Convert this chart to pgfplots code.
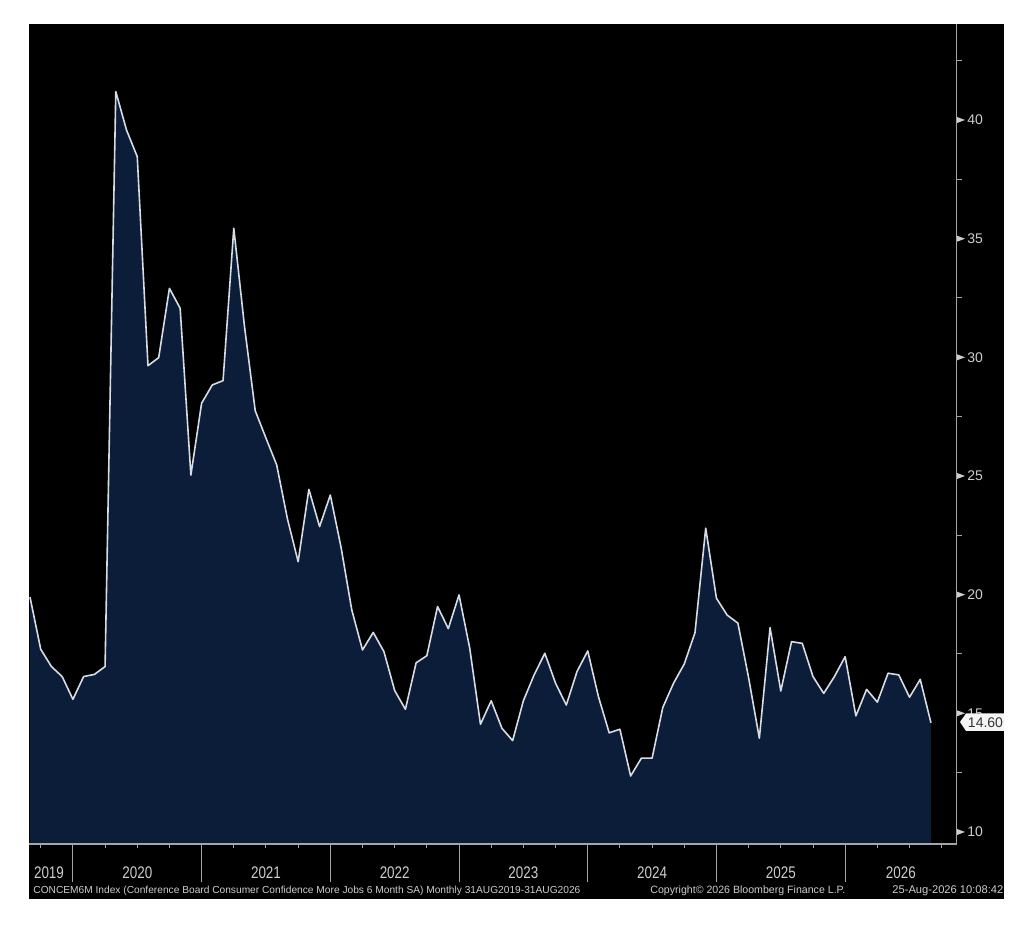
\documentclass[border=0pt]{standalone}
\usepackage{fontspec}
\setmainfont{Liberation Sans}
\newfontfamily\cond[FakeStretch=0.8]{Liberation Sans}
\usepackage{graphicx}
\usepackage{pgfplots}
\pgfplotsset{compat=1.18}
\usepackage{pgfplotstable}
\definecolor{navy}{RGB}{12,29,58}
\definecolor{linec}{RGB}{215,220,228}
\definecolor{labc}{RGB}{205,205,205}
\definecolor{axc}{RGB}{165,165,165}
\pgfplotstableread{
i v
0 19.9
1 17.70
2 16.97
3 16.55
4 15.59
5 16.55
6 16.64
7 16.97
8 41.2
9 39.58
10 38.46
11 29.65
12 29.99
13 32.91
14 32.07
15 25.04
16 28.07
17 28.84
18 29.02
19 35.44
20 31.3
21 27.75
22 26.6
23 25.47
24 23.2
25 21.39
26 24.44
27 22.87
28 24.20
29 22.0
30 19.36
31 17.67
32 18.41
33 17.60
34 15.96
35 15.17
36 17.13
37 17.43
38 19.50
39 18.57
40 19.99
41 17.74
42 14.54
43 15.53
44 14.37
45 13.85
46 15.53
47 16.62
48 17.53
49 16.27
50 15.35
51 16.76
52 17.63
53 15.70
54 14.18
55 14.33
56 12.36
57 13.11
58 13.11
59 15.25
60 16.27
61 17.08
62 18.40
63 22.80
64 19.85
65 19.14
66 18.80
67 16.5
68 13.95
69 18.61
70 15.94
71 18.02
72 17.95
73 16.55
74 15.84
75 16.55
76 17.39
77 14.89
78 16.01
79 15.47
80 16.69
81 16.62
82 15.68
83 16.43
84 14.60
}\data
\begin{document}
\begin{tikzpicture}
\begin{scope}[x=0.5pt,y=-0.5pt,shift={(-14.65pt,422pt)}]
\useasboundingbox (0,0) rectangle (1024,925);
\fill[white] (0,0) rectangle (1024,925);
\fill[black] (29.3,24) rectangle (1004,899);
\end{scope}
\begin{axis}[at={(0,0)},anchor=south west,scale only axis,
  width=463.7pt,height=410pt,
  xmin=-0.065,xmax=86.4,ymin=9.494,ymax=44.05,hide axis]
\addplot[draw=none,fill=navy] table[x=i,y=v]{\data} \closedcycle;
\addplot[linec,line width=0.8pt,line join=round] table[x=i,y=v]{\data};
\end{axis}
\begin{scope}[x=0.5pt,y=-0.5pt,shift={(-14.65pt,422pt)}]
\draw[axc,line width=0.6pt] (29.3,844) -- (956.7,844) -- (956.7,24);
\foreach \k in {0,...,6} \draw[axc,line width=0.5pt] ({30+10.726*(4+12*\k)},844) -- ++(0,38);
\foreach \m in {1,7,10,13,19,22,25,31,34,37,43,46,49,55,58,61,67,70,73,79,82,85}
  \draw[axc,line width=0.5pt] ({30+10.726*\m},844) -- ++(0,4);
\foreach \yr/\X in {2019/49,2020/137.3,2021/266,2022/394.7,2023/523.4,2024/652.1,2025/780.8,2026/900.9}
  \node[labc,inner sep=0pt] at (\X,873) {\cond\fontsize{8.4pt}{9pt}\selectfont \yr};
\foreach \Y in {772.7,654,535.3,416.7,298,179.3,60.7}
  \draw[axc,line width=0.5pt] (957,\Y) -- (962,\Y);
\foreach \v/\Y in {10/832,15/713.3,20/594.7,25/476,30/357.3,35/238.7,40/120}{
  \fill[labc] (957,\Y-3) -- (965,\Y) -- (957,\Y+3) -- cycle;
  \node[labc,anchor=west,inner sep=0pt] at (967,\Y) {\fontsize{7pt}{8pt}\selectfont \v};
}
\fill[white!92!gray] (960,722) -- (966,713.5) -- (1004,713.5) -- (1004,731) -- (966,731) -- cycle;
\node[inner sep=0pt,text=black!80] at (985.5,722.5) {\fontsize{7pt}{8pt}\selectfont 14.60};
\node[labc,anchor=west,inner sep=0pt] at (33,891) {\resizebox{273.5pt}{!}{\fontsize{5pt}{6pt}\selectfont CONCEM6M Index (Conference Board Consumer Confidence More Jobs 6 Month SA) Monthly 31AUG2019-31AUG2026}};
\node[labc,anchor=west,inner sep=0pt] at (650,891) {\resizebox{97.5pt}{!}{\fontsize{5pt}{6pt}\selectfont Copyright© 2026 Bloomberg Finance L.P.}};
\node[labc,anchor=west,inner sep=0pt] at (892,891) {\resizebox{55.5pt}{!}{\fontsize{5pt}{6pt}\selectfont 25-Aug-2026 10:08:42}};
\end{scope}
\end{tikzpicture}
\end{document}
